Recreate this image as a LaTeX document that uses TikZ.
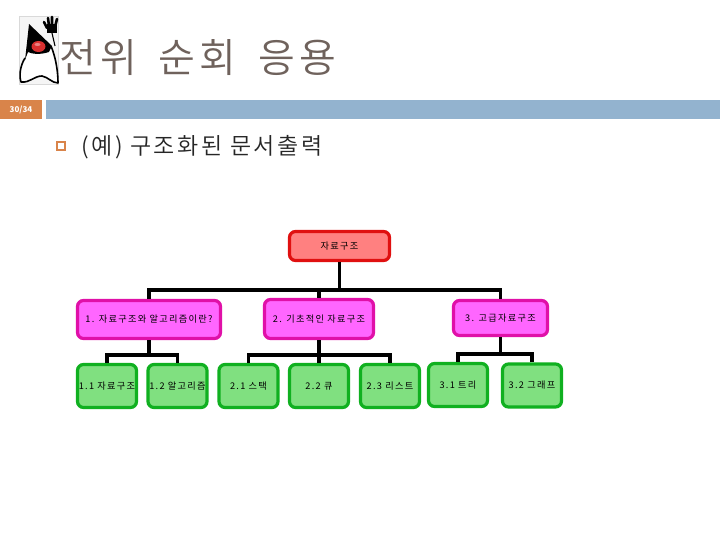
\documentclass[tikz,border=0pt]{standalone}
\usepackage{fontspec}
\setmainfont{Noto Sans CJK KR}
\newfontfamily\titlef[LetterSpace=10]{Noto Sans CJK KR DemiLight}
\newfontfamily\bodyf[LetterSpace=11]{Noto Sans CJK KR DemiLight}
\newfontfamily\smallf[LetterSpace=14]{Noto Sans CJK KR}
\definecolor{titlec}{HTML}{6F625C}
\definecolor{barc}{HTML}{93B3CF}
\definecolor{orangec}{HTML}{D9844A}
\definecolor{rootf}{HTML}{FF8080}
\definecolor{rootd}{HTML}{E01010}
\definecolor{midf}{HTML}{FF66FF}
\definecolor{midd}{HTML}{E010A8}
\definecolor{leaff}{HTML}{80E080}
\definecolor{leafd}{HTML}{10B020}
\definecolor{nosec}{HTML}{D83030}
\tikzset{
  x=1pt,y=-1pt,
  boxbase/.style={rectangle,rounded corners=6pt,line width=3.2pt,inner sep=0pt,font=\smallf\fontsize{9.2}{10}\selectfont,text=black,align=center},
  rootbox/.style={boxbase,draw=rootd,fill=rootf,minimum width=100pt,minimum height=29pt},
  midbox/.style={boxbase,draw=midd,fill=midf},
  leafbox/.style={boxbase,draw=leafd,fill=leaff,minimum width=59pt,minimum height=43pt},
  conn/.style={line width=3.8pt,draw=black},
  titletext/.style={inner sep=0pt,anchor=west,text=titlec,font=\titlef\fontsize{40}{44}\selectfont},
  bodytext/.style={inner sep=0pt,anchor=west,text=black!85,font=\bodyf\fontsize{23}{26}\selectfont},
}
\begin{document}
\begin{tikzpicture}
\useasboundingbox (0,0) rectangle (720,540);
\fill[white] (0,0) rectangle (720,540);
% header
\fill[barc] (46,100) rectangle (720,119);
\fill[orangec] (0,100) rectangle (42,119);
\node[inner sep=0pt,text=white,font=\fontsize{8}{9}\selectfont\bfseries] (pg) at (21,109.5) {30/34};
\node[titletext] (title) at (59,58) {전위 \hspace{9pt}순회 \hspace{9pt}응용};
% duke
\fill[black!4,draw=black!15,line width=0.5pt] (19,16) rectangle (58,84);
\fill[white] (29,24) -- (50,44) .. controls (55,58) and (57,70) .. (58,83) .. controls (52,84) and (48,78) .. (42,76) .. controls (34,76) and (30,82) .. (22,82) .. controls (19,78) and (20,68) .. (24,58) -- cycle;
\fill[black] (29,24) -- (52,46) -- (49,52) .. controls (40,55) and (32,54) .. (28,52) -- (25,60) -- cycle;
\draw[black,line width=1.6pt,line join=round] (25,58) .. controls (20,66) and (19,76) .. (21,82) .. controls (30,83) and (34,76) .. (42,76) .. controls (48,77) and (52,83) .. (58,83) .. controls (58,72) and (56,58) .. (51,46);
\fill[nosec] (38.5,46.5) ellipse (7 and 5.5);
\fill[nosec!60!white] (37.5,44.5) ellipse (3 and 1.5);
\fill[black] (47,24) rectangle (57,33);
\draw[black,line width=2.6pt,line cap=round] (44,22) -- (47,28) (48,18) -- (49,26) (52,17) -- (52,26) (57,19) -- (55,27);
\draw[black,line width=1.1pt] (52,33) -- (55,46);
% bullet
\draw[orangec,line width=1.6pt] (57,142) rectangle (65,150);
\node[bodytext] (bt) at (81,147) {(예) 구조화된 문서출력};
% nodes
\node[rootbox] (root) at (339.5,246) {자료구조};
\node[midbox,minimum width=143pt,minimum height=38pt] (b1) at (149,319.5) {1. 자료구조와 알고리즘이란?};
\node[midbox,minimum width=109pt,minimum height=39pt] (b2) at (319,319) {2. 기초적인 자료구조};
\node[midbox,minimum width=94pt,minimum height=35pt] (b3) at (500.5,318) {3. 고급자료구조};
\node[leafbox] (a1) at (107,386) {1.1 자료구조};
\node[leafbox] (a2) at (177.5,386) {1.2 알고리즘};
\node[leafbox] (c1) at (248.5,386) {2.1 스택};
\node[leafbox] (c2) at (319,386) {2.2 큐};
\node[leafbox] (c3) at (390,386) {2.3 리스트};
\node[leafbox] (d1) at (458,385) {3.1 트리};
\node[leafbox] (d2) at (532,385.5) {3.2 그래프};
% junctions
\coordinate (j0) at (339.5,290);
\coordinate (j1) at (149,355);
\coordinate (j2) at (319,355);
\coordinate (j3) at (500.5,354);
% connectors
\draw[conn] (root.south) -- (j0);
\draw[conn] (b1.north) |- (j0);
\draw[conn] (b3.north) |- (j0);
\draw[conn] (b2.north) -- (b2.north |- j0);
\draw[conn] (b1.south) -- (j1);
\draw[conn] (a1.north) |- (j1);
\draw[conn] (a2.north) |- (j1);
\draw[conn] (b2.south) -- (j2);
\draw[conn] (c1.north) |- (j2);
\draw[conn] (c3.north) |- (j2);
\draw[conn] (c2.north) -- (j2);
\draw[conn] (b3.south) -- (j3);
\draw[conn] (d1.north) |- (j3);
\draw[conn] (d2.north) |- (j3);
\end{tikzpicture}
\end{document}
